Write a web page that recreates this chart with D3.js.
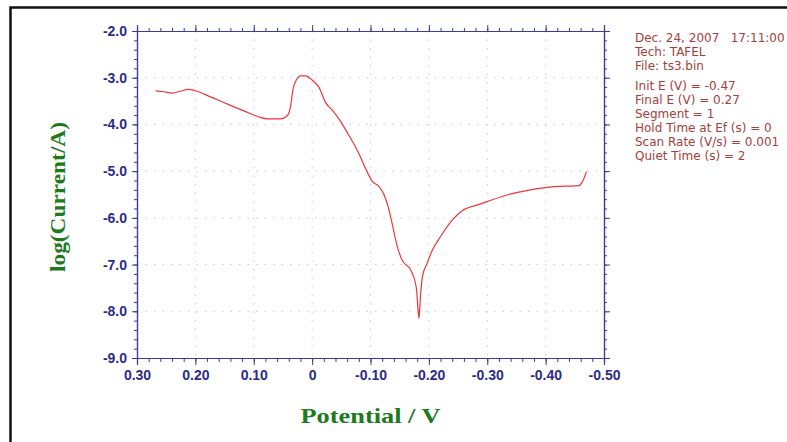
<!DOCTYPE html>
<html>
<head>
<meta charset="utf-8">
<script src="https://cdn.jsdelivr.net/npm/d3@7"></script>
<style>
  body { margin: 0; background: #fff; }
  svg { display: block; }
</style>
</head>
<body>
<div id="chart"></div>
<script>
// Tafel scan data (potential in V, log of current in A)
const potential = [0.268, 0.254, 0.240, 0.226, 0.212, 0.200, 0.174, 0.146, 0.117, 0.092,
  0.077, 0.054, 0.043, 0.037, 0.033, 0.027, 0.020, 0.011, 0.000, -0.011,
  -0.024, -0.037, -0.049, -0.060, -0.080, -0.094, -0.103, -0.114, -0.123, -0.130,
  -0.137, -0.146, -0.154, -0.169, -0.177, -0.179, -0.181, -0.183, -0.1845, -0.186,
  -0.189, -0.197, -0.206, -0.220, -0.240, -0.257, -0.289, -0.334, -0.374, -0.414,
  -0.457, -0.462, -0.470];
const logCurrent = [-3.28, -3.30, -3.33, -3.29, -3.25, -3.28, -3.41, -3.56, -3.71, -3.835,
  -3.88, -3.88, -3.82, -3.62, -3.26, -3.05, -2.96, -2.96, -3.05, -3.19,
  -3.55, -3.73, -3.94, -4.17, -4.62, -5.01, -5.22, -5.32, -5.50, -5.75,
  -6.12, -6.62, -6.90, -7.12, -7.40, -7.55, -7.90, -8.15, -7.90, -7.62,
  -7.26, -6.97, -6.69, -6.40, -6.05, -5.85, -5.70, -5.51, -5.40, -5.33,
  -5.31, -5.25, -5.01];

const xTicks = [0.30, 0.20, 0.10, 0, -0.10, -0.20, -0.30, -0.40, -0.50];
const yTicks = [-2, -3, -4, -5, -6, -7, -8, -9];

const infoHeader = ['Dec. 24, 2007   17:11:00', 'Tech: TAFEL', 'File: ts3.bin'];
const infoParams = ['Init E (V) = -0.47', 'Final E (V) = 0.27', 'Segment = 1',
  'Hold Time at Ef (s) = 0', 'Scan Rate (V/s) = 0.001', 'Quiet Time (s) = 2'];

const W = 787, H = 442;
const plot = { left: 137, right: 604, top: 31, bottom: 358 };
const axisColor = '#3b3b98';
const labelColor = '#2c2c88';
const titleColor = '#1d7a1d';
const tickFont = 'bold 14px "Liberation Sans", Arial, sans-serif';

const svg = d3.select('#chart').append('svg')
  .attr('width', W).attr('height', H);

svg.append('rect').attr('width', W).attr('height', H).attr('fill', '#fff');

// outer frame (only top and left edges are in view)
svg.append('path')
  .attr('d', `M10.5,${H} V7.5 H${W}`)
  .attr('fill', 'none')
  .attr('stroke', '#111')
  .attr('stroke-width', 2.5);

const x = d3.scaleLinear().domain([0.30, -0.50]).range([plot.left, plot.right]);
const y = d3.scaleLinear().domain([-2, -9]).range([plot.top, plot.bottom]);

const minorX = d3.range(0, 41).map(i => 0.30 - i * 0.02);
const minorY = d3.range(0, 36).map(i => -2 - i * 0.2);

// dotted grid at major ticks
svg.append('g').selectAll('line')
  .data(xTicks.slice(1, -1))
  .enter().append('line')
  .attr('x1', d => x(d)).attr('x2', d => x(d))
  .attr('y1', plot.top).attr('y2', plot.bottom)
  .attr('stroke', '#c8c8c8').attr('stroke-dasharray', '1.5,7');

svg.append('g').selectAll('line')
  .data(yTicks.slice(1, -1))
  .enter().append('line')
  .attr('x1', plot.left).attr('x2', plot.right)
  .attr('y1', d => y(d)).attr('y2', d => y(d))
  .attr('stroke', '#c8c8c8').attr('stroke-dasharray', '1.5,7');

// plain hyphen for negatives, like the instrument software
const fmtX = d => Math.abs(d) < 1e-9 ? '0' : d.toFixed(2);
const fmtY = d => d.toFixed(1);

function styleAxis(g) {
  g.select('.domain').attr('stroke', axisColor).attr('stroke-width', 1.2);
  g.selectAll('.tick line').attr('stroke', axisColor).attr('stroke-width', 1);
}

// bottom axis: minor then major with labels
svg.append('g').attr('transform', `translate(0,${plot.bottom})`)
  .call(d3.axisBottom(x).tickValues(minorX).tickSize(4).tickFormat(''))
  .call(styleAxis);
svg.append('g').attr('transform', `translate(0,${plot.bottom})`)
  .call(d3.axisBottom(x).tickValues(xTicks).tickSize(7).tickPadding(5).tickFormat(fmtX))
  .call(styleAxis)
  .selectAll('text')
  .attr('fill', labelColor)
  .style('font', tickFont);

// top axis
svg.append('g').attr('transform', `translate(0,${plot.top})`)
  .call(d3.axisTop(x).tickValues(minorX).tickSize(3).tickFormat(''))
  .call(styleAxis);
svg.append('g').attr('transform', `translate(0,${plot.top})`)
  .call(d3.axisTop(x).tickValues(xTicks).tickSize(6).tickFormat(''))
  .call(styleAxis);

// left axis
svg.append('g').attr('transform', `translate(${plot.left},0)`)
  .call(d3.axisLeft(y).tickValues(minorY).tickSize(3).tickFormat(''))
  .call(styleAxis);
svg.append('g').attr('transform', `translate(${plot.left},0)`)
  .call(d3.axisLeft(y).tickValues(yTicks).tickSize(5).tickPadding(5).tickFormat(fmtY))
  .call(styleAxis)
  .selectAll('text')
  .attr('fill', labelColor)
  .style('font', tickFont);

// right axis
svg.append('g').attr('transform', `translate(${plot.right},0)`)
  .call(d3.axisRight(y).tickValues(minorY).tickSize(3).tickFormat(''))
  .call(styleAxis);
svg.append('g').attr('transform', `translate(${plot.right},0)`)
  .call(d3.axisRight(y).tickValues(yTicks).tickSize(6).tickFormat(''))
  .call(styleAxis);

// the scan curve
const line = d3.line()
  .x((d, i) => x(potential[i]))
  .y(d => y(d))
  .curve(d3.curveMonotoneX);

svg.append('path')
  .datum(logCurrent)
  .attr('d', line)
  .attr('fill', 'none')
  .attr('stroke', '#e8383c')
  .attr('stroke-width', 1.2)
  .attr('stroke-linejoin', 'round');

// axis titles
svg.append('text')
  .attr('x', (plot.left + plot.right) / 2)
  .attr('y', 423)
  .attr('text-anchor', 'middle')
  .attr('fill', titleColor)
  .attr('textLength', 140)
  .attr('lengthAdjust', 'spacingAndGlyphs')
  .style('font', 'bold 22px "Liberation Serif", "Times New Roman", serif')
  .text('Potential / V');

svg.append('text')
  .attr('transform', `translate(65,197) rotate(-90)`)
  .attr('text-anchor', 'middle')
  .attr('fill', titleColor)
  .attr('textLength', 150)
  .attr('lengthAdjust', 'spacingAndGlyphs')
  .style('font', 'bold 21px "Liberation Serif", "Times New Roman", serif')
  .text('log(Current/A)');

// run info block
const info = svg.append('g')
  .attr('fill', '#a3403c')
  .style('font', '12px "DejaVu Sans", Arial, sans-serif');

infoHeader.forEach((t, i) => {
  info.append('text').attr('x', 635).attr('y', 42 + i * 14)
    .attr('xml:space', 'preserve').text(t);
});
infoParams.forEach((t, i) => {
  info.append('text').attr('x', 635).attr('y', 90 + i * 14).text(t);
});
</script>
</body>
</html>
